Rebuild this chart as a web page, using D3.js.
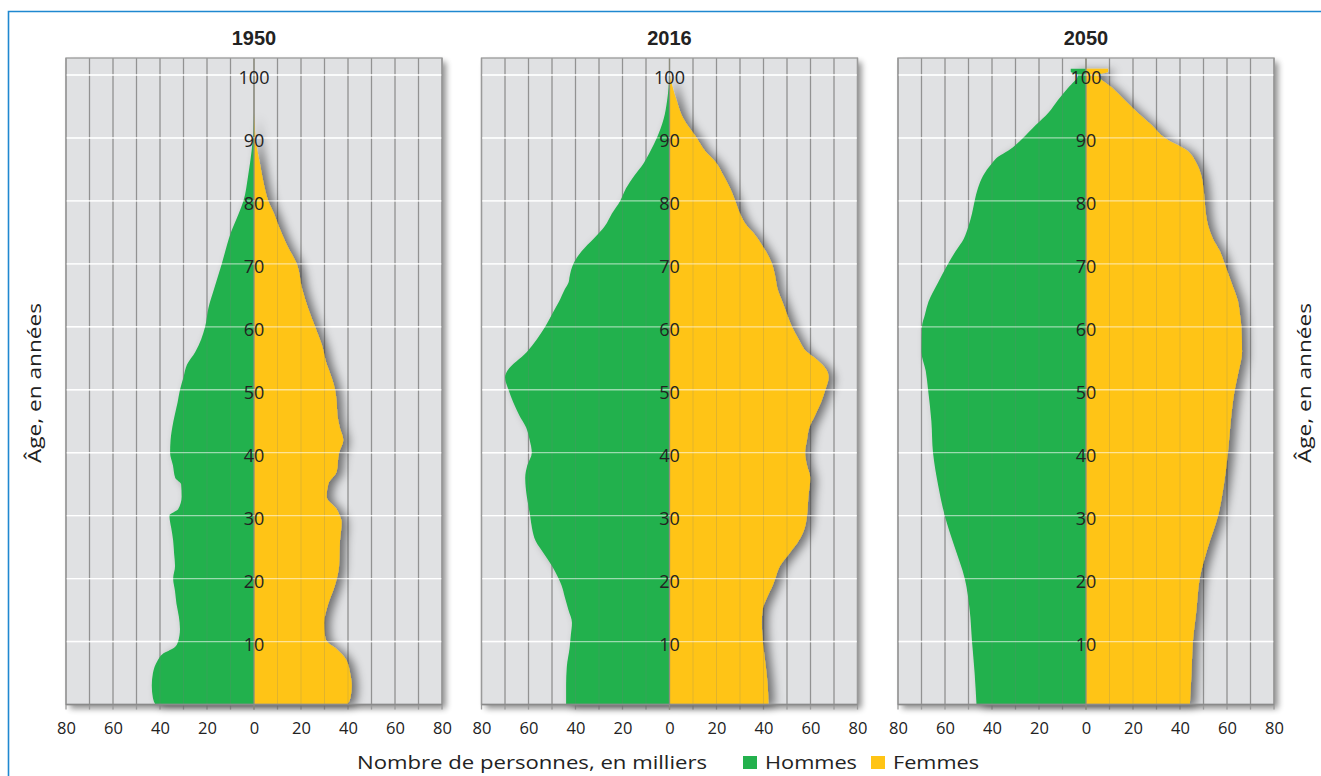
<!DOCTYPE html>
<html><head><meta charset="utf-8">
<script src="https://cdn.jsdelivr.net/npm/d3@7"></script>
<style>body{margin:0;background:#fff;} svg{display:block}</style>
</head><body>
<svg id="c" width="1321" height="776"></svg>
<script>
// ---------- DATA (milliers de personnes) ----------
const years = ["1950", "2016", "2050"];

const ages1950H = [0,1,3,5,7,8,9,10,12,14,16,18,20,22,24,26,28,29,30,31,33,35,36,38,40,42,45,48,50,52,54,56,58,60,63,66,70,73,75,78,80,84,88,91,94];
const hommes1950 = [42,43,43.5,43,41,39,34,32.3,31.5,32,33,33.6,34.4,33.6,34,34.4,35.2,35.7,36,32.3,30.8,31,33.5,34.5,35.7,35.5,34.3,32.5,31.5,30,28.5,25,22.5,20.8,19.4,17,13.7,11.5,9.8,6.5,4.5,2.5,1,0.3,0];
const ages1950F = [0,1,3,5,7,9,10,11,13,16,19,22,26,29,30,31,33,35,37,40,42,44,46,48,50,52,54,57,60,63,66,70,73,76,78,80,83,86,89,92,94];
const femmes1950 = [39.7,41,41.6,40.9,39.4,34.5,31,30.2,29.9,31.6,34.5,36.2,36.6,37.3,36.5,35.2,30.9,31.6,35.2,36.2,38,36.5,35.5,35.2,34.5,33,31,29,26,23,20.5,18.2,14,10.5,8.5,6.1,4,2.5,1,0.3,0];

const ages2016H = [0,3,6,9,11,13,15,17,19,20,22,24,26,28,30,33,36,38,40,42,44,46,48,50,52,53,56,58,60,62,64,66,67,68,70,71,73,74,76,78,80,82,84,86,88,90,93,96,100];
const hommes2016 = [44,44,43.7,42.5,42,41.5,43,44.5,46,47.2,50,53.5,57,58.5,59.3,60.7,61.4,60.5,58.6,59.5,61,64,66.5,68.5,70,69,60.7,56.5,52.9,50,47,44.5,43,42.5,40.9,39.4,35,32.3,27.5,24.5,21,18.5,15,11,8,5.4,2.5,1,0];
const ages2016F = [0,3,6,9,11,13,15,17,19,20,22,24,26,28,30,33,36,38,40,42,44,46,48,50,52,53,55,56,58,60,62,64,66,68,70,72,73,75,76,78,80,82,84,86,88,90,93,96,100];
const femmes2016 = [42.1,41.8,41,40,39.5,39.3,39.6,41.5,44,45,47,51,55,57.5,58.5,59.1,59.9,58.5,57.7,58.5,59.5,62,64.5,66.3,67.7,67,62,58.5,55,52.1,50,48,46,45,43.6,41,39.3,35.5,33,30,28,25.8,23,20,15,11.6,6,3,0];

const ages2050H = [0,5,10,15,20,25,30,35,40,45,50,53,56,60,62,64,67,70,72,74,76,78,80,82,84,86,87,88,90,92,94,96,98,100,100.5,101];
const hommes2050 = [46.6,47.4,48.5,49.5,51.6,55.9,60.1,63,65.1,65.8,67.2,68.2,70,69.8,68.5,67,63,58.7,55.5,52,50,48.5,47.4,46,43.8,40,37.4,33,26.8,21.5,16,12,7.5,3.4,6.5,6.5];
const ages2050F = [0,5,10,15,20,25,30,35,40,45,50,53,56,60,62,64,67,70,72,74,76,78,80,82,84,86,88,90,92,94,96,98,100,100.5,101];
const femmes2050 = [44.2,44.9,45.5,47,48.4,51.9,56.2,58.7,60.4,61.6,63.3,65,66.4,66.1,65.5,64.7,61.9,59,57,54,52,51,50.5,50,49.1,47,43,33.5,28,22,16.5,11,5.1,9.4,9.4];

const xTickValues = [-80,-60,-40,-20,0,20,40,60,80];
const ageTicks = [10,20,30,40,50,60,70,80,90,100];
const legendItems = ["Hommes", "Femmes"];
const xTitle = "Nombre de personnes, en milliers";
const yTitle = "Âge, en années";

// ---------- LAYOUT ----------
const W = 1321, H = 776;
const centers = [254, 669.5, 1086];
const half = 188;
const yTop = 58, yBottom = 704.5;
const ageMax = 102.7;
const GREEN = "#23b14d", YELLOW = "#ffc414";
const FONT = "'Open Sans', 'Noto Sans', sans-serif";

const panels = [
  {year: years[0], hA: ages1950H, h: hommes1950, fA: ages1950F, f: femmes1950},
  {year: years[1], hA: ages2016H, h: hommes2016, fA: ages2016F, f: femmes2016},
  {year: years[2], hA: ages2050H, h: hommes2050, fA: ages2050F, f: femmes2050},
];

const svg = d3.select("#c");
svg.append("rect").attr("width", W).attr("height", H).attr("fill", "#fff");

const defs = svg.append("defs");
function shadow(id, dx, dy, sd, op) {
  const f = defs.append("filter").attr("id", id)
    .attr("x", "-10%").attr("y", "-10%").attr("width", "130%").attr("height", "130%");
  f.append("feGaussianBlur").attr("in", "SourceAlpha").attr("stdDeviation", sd).attr("result", "b");
  f.append("feOffset").attr("in", "b").attr("dx", dx).attr("dy", dy).attr("result", "o");
  f.append("feComponentTransfer").attr("in", "o").attr("result", "t")
    .append("feFuncA").attr("type", "linear").attr("slope", op);
  const m = f.append("feMerge");
  m.append("feMergeNode").attr("in", "t");
  m.append("feMergeNode").attr("in", "SourceGraphic");
}
shadow("panelShadow", 4, 4, 3, 0.45);
shadow("shapeShadow", 6, 2, 5, 0.5);

// frame (blue)
svg.append("path").attr("d", `M8.5,${H} V11.5 H${W}`)
  .attr("fill", "none").attr("stroke", "#1f88d0").attr("stroke-width", 1.6);

const y = d3.scaleLinear().domain([0, ageMax]).range([yBottom, yTop]);

panels.forEach((p, i) => {
  const cx = centers[i];
  const x = d3.scaleLinear().domain([-80, 80]).range([cx - half, cx + half]);
  const g = svg.append("g");

  // panel background
  g.append("rect").attr("x", x(-80)).attr("y", yTop)
    .attr("width", x(80) - x(-80)).attr("height", yBottom - yTop)
    .attr("fill", "#e0e1e3").attr("filter", "url(#panelShadow)");

  // vertical grid
  const vlines = d3.range(-80, 81, 10);
  g.selectAll(".vg").data(vlines).join("line")
    .attr("x1", d => x(d)).attr("x2", d => x(d))
    .attr("y1", yTop).attr("y2", yBottom + 5)
    .attr("stroke", "#9a9a9a").attr("stroke-width", 1.3);

  // horizontal white grid (under)
  g.selectAll(".hg").data(ageTicks).join("line")
    .attr("x1", x(-80)).attr("x2", x(80))
    .attr("y1", d => y(d)).attr("y2", d => y(d))
    .attr("stroke", "#fff").attr("stroke-width", 1.4);

  // shapes
  const sg = g.append("g").attr("filter", "url(#shapeShadow)");
  const hData = p.hA.map((a, k) => ({age: a, v: p.h[k]}));
  const fData = p.fA.map((a, k) => ({age: a, v: p.f[k]}));
  const areaH = d3.area().curve(d3.curveMonotoneY)
    .y(d => y(d.age)).x0(x(0)).x1(d => x(-d.v));
  const areaF = d3.area().curve(d3.curveMonotoneY)
    .y(d => y(d.age)).x0(x(0)).x1(d => x(d.v));
  sg.append("path").datum(hData).attr("d", areaH).attr("fill", GREEN);
  sg.append("path").datum(fData).attr("d", areaF).attr("fill", YELLOW);

  // grid overlay on shapes
  g.selectAll(".vo").data(vlines.filter(d => d !== 0)).join("line")
    .attr("x1", d => x(d)).attr("x2", d => x(d))
    .attr("y1", yTop).attr("y2", yBottom)
    .attr("stroke", "#7a7a7a").attr("stroke-width", 1).attr("opacity", 0.22);
  g.append("line").attr("x1", x(0)).attr("x2", x(0)).attr("y1", yTop).attr("y2", yBottom + 5)
    .attr("stroke", "#8d8d7d").attr("stroke-width", 1.3);
  g.selectAll(".ho").data(ageTicks).join("line")
    .attr("x1", x(-80)).attr("x2", x(80))
    .attr("y1", d => y(d)).attr("y2", d => y(d))
    .attr("stroke", "#fff").attr("stroke-width", 1.3).attr("opacity", 0.55);

  // panel border
  g.append("rect").attr("x", x(-80)).attr("y", yTop)
    .attr("width", x(80) - x(-80)).attr("height", yBottom - yTop)
    .attr("fill", "none").attr("stroke", "#9a9a9a").attr("stroke-width", 1.3);
  g.append("line").attr("x1", x(-80)).attr("x2", x(80)).attr("y1", yBottom).attr("y2", yBottom)
    .attr("stroke", "#8a8a8a").attr("stroke-width", 1.6);

  // age labels
  g.selectAll(".al").data(ageTicks).join("text")
    .attr("x", x(0)).attr("y", d => y(d) + 9.5)
    .attr("text-anchor", "middle").attr("font-family", FONT).attr("font-size", 18)
    .attr("fill", "#222").text(d => d);

  // bottom axis
  const ax = g.append("g").attr("transform", `translate(0,${734})`)
    .call(d3.axisBottom(x).tickValues(xTickValues).tickSize(0).tickFormat(d => Math.abs(d)));
  ax.select(".domain").remove();
  ax.selectAll("text").attr("y", 0).attr("dy", 0)
    .attr("font-family", FONT).attr("font-size", 16.5).attr("fill", "#222");

  // title
  g.append("text").attr("x", cx).attr("y", 45).attr("text-anchor", "middle")
    .attr("font-family", "'Liberation Sans', Arial, sans-serif").attr("font-weight", "bold")
    .attr("font-size", 20).attr("fill", "#222").text(p.year);
});

// y axis titles
[[41, 383], [1311, 383]].forEach(([tx, ty]) => {
  svg.append("text").attr("transform", `translate(${tx},${ty}) rotate(-90)`)
    .attr("text-anchor", "middle").attr("font-family", FONT).attr("font-size", 19)
    .attr("textLength", 160).attr("lengthAdjust", "spacingAndGlyphs")
    .attr("fill", "#222").text(yTitle);
});

// legend
svg.append("text").attr("x", 357).attr("y", 769).attr("font-family", FONT).attr("font-size", 18)
  .attr("fill", "#222").attr("textLength", 350).attr("lengthAdjust", "spacingAndGlyphs").text(xTitle);
const lg = [{x: 743, c: GREEN, tx: 765, w: 92}, {x: 871, c: YELLOW, tx: 893, w: 86}];
legendItems.forEach((t, k) => {
  const L = lg[k];
  svg.append("rect").attr("x", L.x).attr("y", 756).attr("width", 14).attr("height", 13).attr("fill", L.c);
  svg.append("text").attr("x", L.tx).attr("y", 769).attr("font-family", FONT).attr("font-size", 18)
    .attr("fill", "#222").attr("textLength", L.w).attr("lengthAdjust", "spacingAndGlyphs").text(t);
});
</script>
</body></html>
